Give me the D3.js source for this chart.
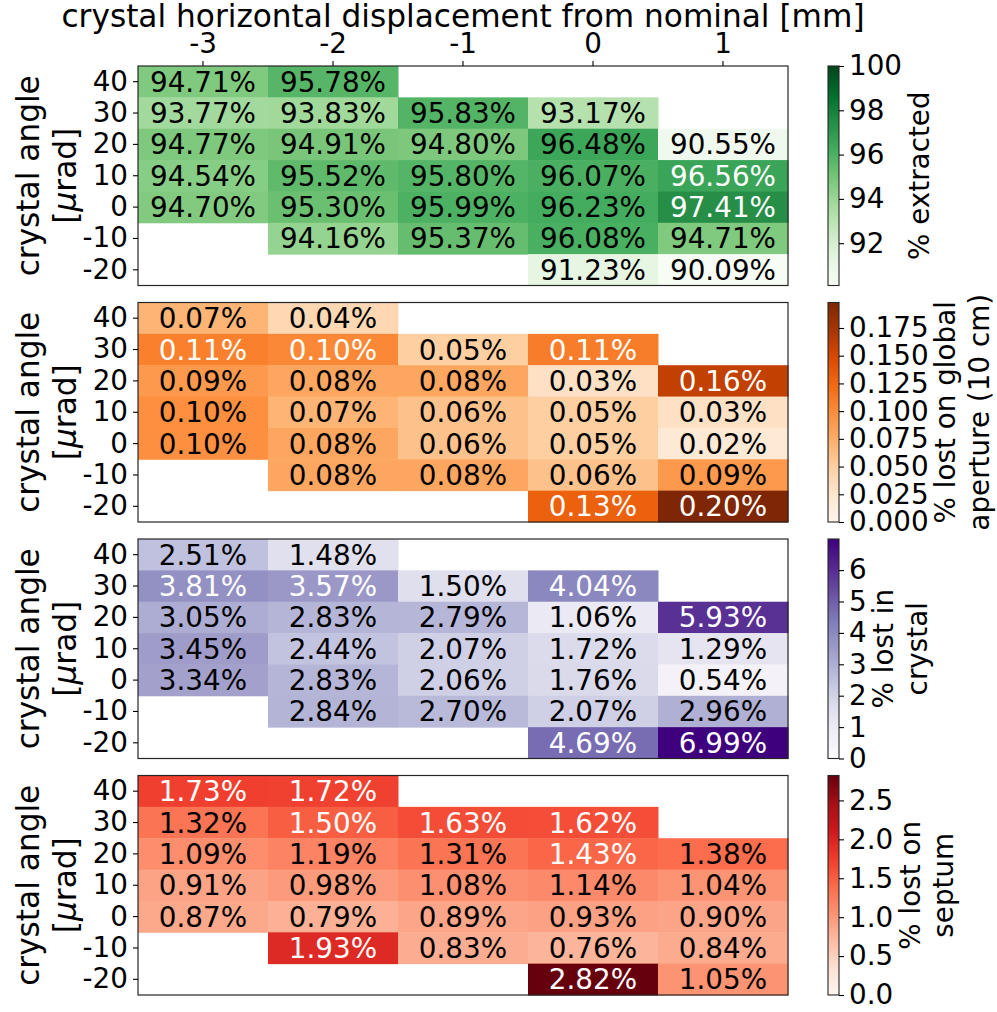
<!DOCTYPE html>
<html>
<head>
<meta charset="utf-8">
<script src="https://cdn.jsdelivr.net/npm/d3@7.9.0/dist/d3.min.js"></script>
<style>
  body { margin: 0; background: #fff; }
  svg { display: block; font-family: "DejaVu Sans", sans-serif; }
</style>
</head>
<body>
<div id="chart"></div>
<script>
// crystal horizontal displacement [mm] (columns) and crystal angle [urad] (rows)
const columns = [-3, -2, -1, 0, 1];
const rows = [40, 30, 20, 10, 0, -10, -20];

// one row per crystal angle, null where no measurement
const extracted = [
  [94.71, 95.78, null, null, null],
  [93.77, 93.83, 95.83, 93.17, null],
  [94.77, 94.91, 94.80, 96.48, 90.55],
  [94.54, 95.52, 95.80, 96.07, 96.56],
  [94.70, 95.30, 95.99, 96.23, 97.41],
  [null, 94.16, 95.37, 96.08, 94.71],
  [null, null, null, 91.23, 90.09],
];

const lostAperture = [
  [0.07, 0.04, null, null, null],
  [0.108, 0.1025, 0.05, 0.11, null],
  [0.09, 0.08, 0.08, 0.03, 0.16],
  [0.0975, 0.07, 0.06, 0.05, 0.03],
  [0.097, 0.08, 0.06, 0.05, 0.02],
  [null, 0.08, 0.08, 0.06, 0.09],
  [null, null, null, 0.13, 0.198],
];

const lostCrystal = [
  [2.51, 1.48, null, null, null],
  [3.81, 3.57, 1.50, 4.04, null],
  [3.05, 2.83, 2.79, 1.06, 5.93],
  [3.45, 2.44, 2.07, 1.72, 1.29],
  [3.34, 2.83, 2.06, 1.76, 0.54],
  [null, 2.84, 2.70, 2.07, 2.96],
  [null, null, null, 4.69, 6.99],
];

const lostSeptum = [
  [1.73, 1.72, null, null, null],
  [1.32, 1.50, 1.63, 1.62, null],
  [1.09, 1.19, 1.31, 1.43, 1.38],
  [0.91, 0.98, 1.08, 1.14, 1.04],
  [0.87, 0.79, 0.89, 0.93, 0.90],
  [null, 1.93, 0.83, 0.76, 0.84],
  [null, null, null, 2.82, 1.05],
];

const extractedTicks = [92, 94, 96, 98, 100];
const apertureTicks = [0, 0.025, 0.05, 0.075, 0.1, 0.125, 0.15, 0.175];
const crystalTicks = [0, 1, 2, 3, 4, 5, 6];
const septumTicks = [0, 0.5, 1, 1.5, 2, 2.5];

const xTitle = 'crystal horizontal displacement from nominal [mm]';

// matplotlib colormaps (9-class brewer, linear)
const greens = ['#f7fcf5','#e5f5e0','#c7e9c0','#a1d99b','#74c476','#41ab5d','#238b45','#006d2c','#00441b'];
const oranges = ['#fff5eb','#fee6ce','#fdd0a2','#fdae6b','#fd8d3c','#f16913','#d94801','#a63603','#7f2704'];
const purples = ['#fcfbfd','#efedf5','#dadaeb','#bcbddc','#9e9ac8','#807dba','#6a51a3','#54278f','#3f007d'];
const reds = ['#fff5f0','#fee0d2','#fcbba1','#fc9272','#fb6a4a','#ef3b2c','#cb181d','#a50f15','#67000d'];

const flat = (m) => m.flat().filter(v => v != null);

const panels = [
  { values: extracted, colors: greens, domain: [d3.min(flat(extracted)), 100],
    ticks: extractedTicks, fmt: d3.format('d'), label: ['% extracted'], whiteAbove: 96.5 },
  { values: lostAperture, colors: oranges, domain: [0, d3.max(flat(lostAperture))],
    ticks: apertureTicks, fmt: d3.format('.3f'), label: ['% lost on global', 'aperture (10 cm)'], whiteAbove: 0.1 },
  { values: lostCrystal, colors: purples, domain: [0, d3.max(flat(lostCrystal))],
    ticks: crystalTicks, fmt: d3.format('d'), label: ['% lost in', 'crystal'], whiteAbove: 3.5 },
  { values: lostSeptum, colors: reds, domain: [0, d3.max(flat(lostSeptum))],
    ticks: septumTicks, fmt: d3.format('.1f'), label: ['% lost on', 'septum'], whiteAbove: 1.4 },
];

const width = 997;
const height = 1012;
const fontSize = 27.8;     // ticks, cell text, colorbar labels
const labelSize = 31.2;    // title and y labels
const left = 138, right = 788;
const firstTop = 66, panelH = 219.5, gap = 17;
const cbX = 828, cbW = 11;
const frameColor = '#262626';

const svg = d3.select('#chart')
  .append('svg')
  .attr('width', width)
  .attr('height', height);

const defs = svg.append('defs');

const xScale = d3.scaleBand()
  .domain(columns)
  .range([left, right]);

// title on top
svg.append('text')
  .attr('x', (left + right) / 2)
  .attr('y', 26.5)
  .attr('text-anchor', 'middle')
  .attr('font-size', labelSize)
  .text(xTitle);

function styleAxis(g) {
  g.select('.domain').remove();
  g.attr('font-size', fontSize).attr('font-family', null);
  g.selectAll('.tick line').attr('stroke', '#000').attr('stroke-width', 1.1);
  g.selectAll('.tick text').attr('fill', '#000');
}

panels.forEach((p, i) => {
  const top = firstTop + i * (panelH + gap);
  const bottom = top + panelH;
  const yScale = d3.scaleBand().domain(rows).range([top, bottom]);

  const color = d3.scaleLinear()
    .domain(p.colors.map((_, k) => p.domain[0] + k / (p.colors.length - 1) * (p.domain[1] - p.domain[0])))
    .range(p.colors)
    .clamp(true);

  const cells = [];
  rows.forEach((r, ri) => columns.forEach((c, ci) => {
    const v = p.values[ri][ci];
    if (v != null) cells.push({ r, c, v });
  }));

  const g = svg.append('g');

  g.selectAll('rect.cell')
    .data(cells)
    .join('rect')
    .attr('class', 'cell')
    .attr('x', d => xScale(d.c))
    .attr('y', d => yScale(d.r))
    .attr('width', xScale.bandwidth() + 0.5)
    .attr('height', yScale.bandwidth() + 0.5)
    .attr('fill', d => color(d.v));

  g.selectAll('text.val')
    .data(cells)
    .join('text')
    .attr('class', 'val')
    .attr('x', d => xScale(d.c) + xScale.bandwidth() / 2)
    .attr('y', d => yScale(d.r) + yScale.bandwidth() / 2)
    .attr('dy', '0.36em')
    .attr('text-anchor', 'middle')
    .attr('font-size', fontSize)
    .attr('fill', d => d.v > p.whiteAbove ? '#fff' : '#000')
    .text(d => d3.format('.2f')(d.v) + '%');

  // frame
  g.append('rect')
    .attr('x', left)
    .attr('y', top)
    .attr('width', right - left)
    .attr('height', panelH)
    .attr('fill', 'none')
    .attr('stroke', frameColor)
    .attr('stroke-width', 1.2);

  g.append('g')
    .attr('transform', `translate(${left},0)`)
    .call(d3.axisLeft(yScale).tickSize(5).tickPadding(5))
    .call(styleAxis);

  if (i === 0) {
    g.append('g')
      .attr('transform', `translate(0,${top})`)
      .call(d3.axisTop(xScale).tickSize(5).tickPadding(8))
      .call(styleAxis);
  }

  // y label: crystal angle [μrad]
  const yl = g.append('text')
    .attr('transform', `translate(0,${(top + bottom) / 2}) rotate(-90)`)
    .attr('text-anchor', 'middle')
    .attr('font-size', labelSize);
  yl.append('tspan').attr('x', 0).attr('y', 38.5).text('crystal angle');
  const l2 = yl.append('tspan').attr('x', 0).attr('y', 76);
  l2.append('tspan').text('[');
  l2.append('tspan').attr('font-style', 'italic').text('μ');
  l2.append('tspan').text('rad]');

  // colorbar
  const cScale = d3.scaleLinear().domain(p.domain).range([bottom, top]);
  const gradId = 'grad' + i;
  const grad = defs.append('linearGradient')
    .attr('id', gradId)
    .attr('x1', 0).attr('y1', 1).attr('x2', 0).attr('y2', 0);
  d3.range(0, 1.0001, 0.02).forEach(t => {
    grad.append('stop')
      .attr('offset', t)
      .attr('stop-color', color(p.domain[0] + t * (p.domain[1] - p.domain[0])));
  });

  g.append('rect')
    .attr('x', cbX)
    .attr('y', top)
    .attr('width', cbW)
    .attr('height', panelH)
    .attr('fill', `url(#${gradId})`)
    .attr('stroke', frameColor)
    .attr('stroke-width', 1.1);

  const cAxis = g.append('g')
    .attr('transform', `translate(${cbX + cbW},0)`)
    .call(d3.axisRight(cScale).tickValues(p.ticks).tickFormat(p.fmt).tickSize(5).tickPadding(5))
    .call(styleAxis);

  const bb = cAxis.node().getBBox();
  const labelLeft = cbX + cbW + bb.x + bb.width + 5.6;
  const cl = g.append('text')
    .attr('transform', `translate(0,${(top + bottom) / 2}) rotate(-90)`)
    .attr('text-anchor', 'middle')
    .attr('font-size', fontSize);
  p.label.forEach((line, j) => {
    cl.append('tspan')
      .attr('x', 0)
      .attr('y', labelLeft + 21 + j * 33.4)
      .text(line);
  });
});
</script>
</body>
</html>
